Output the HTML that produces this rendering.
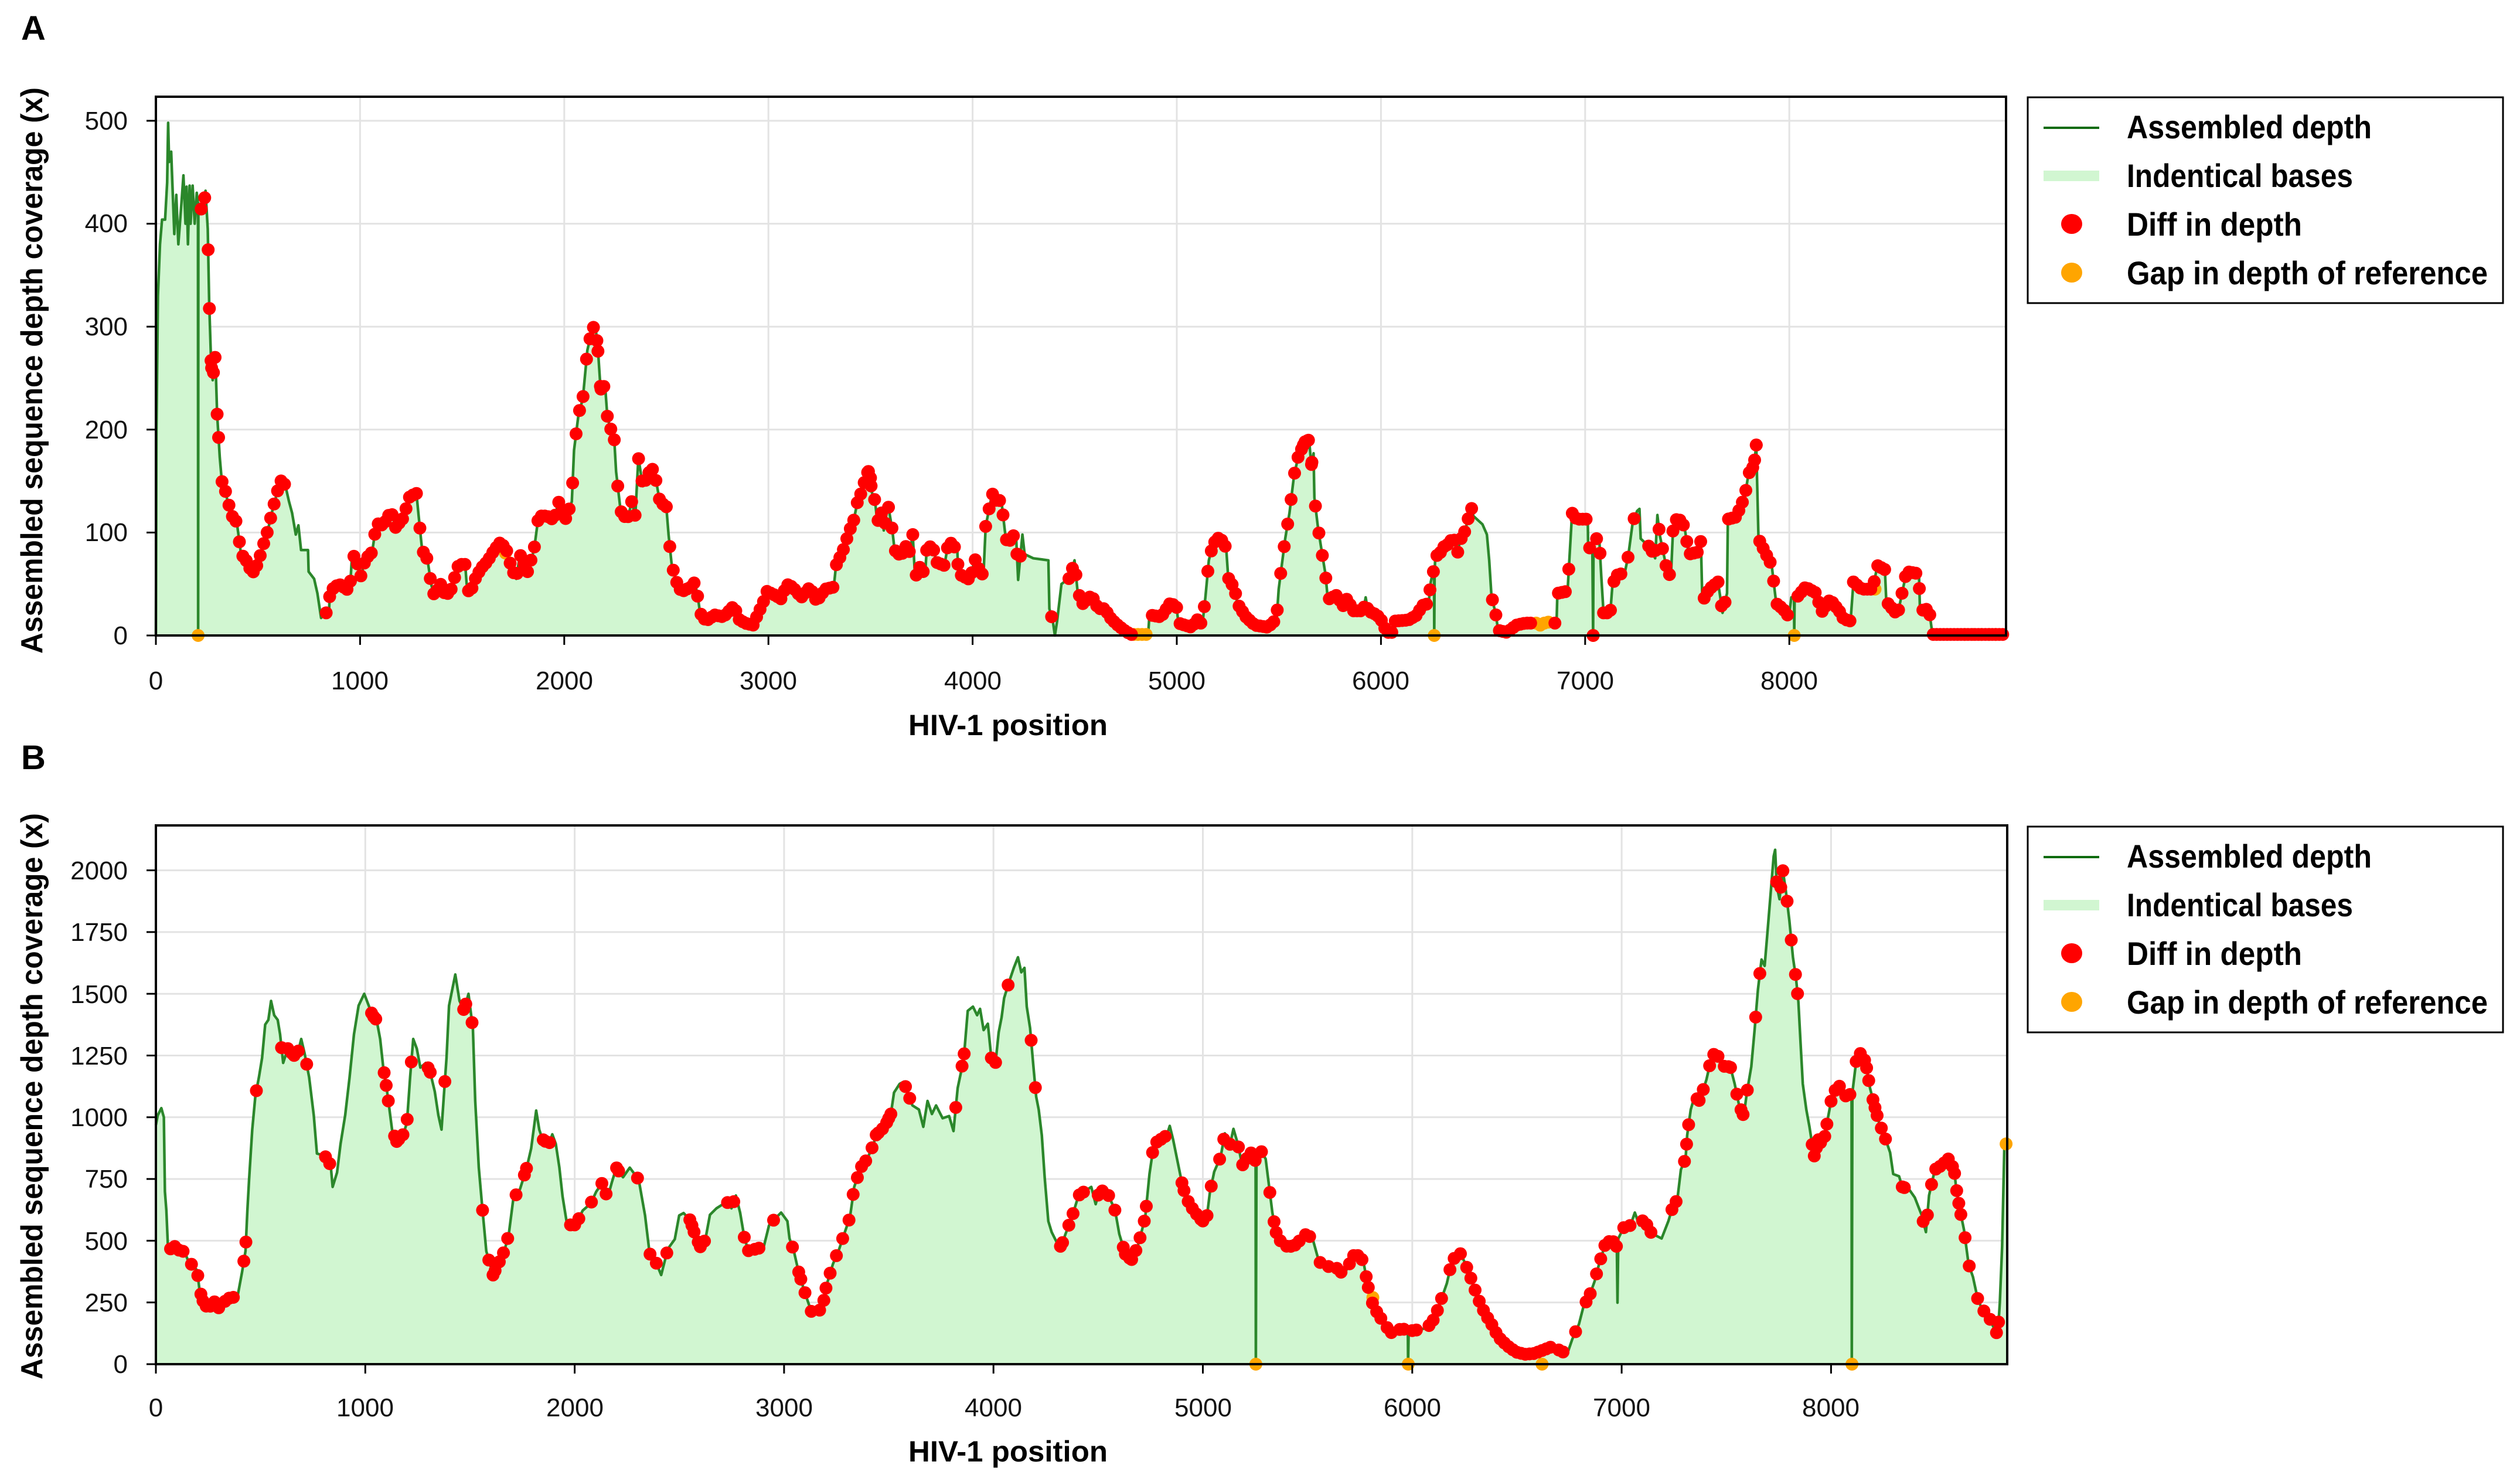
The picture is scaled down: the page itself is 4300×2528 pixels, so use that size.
<!DOCTYPE html>
<html><head><meta charset="utf-8">
<style>
html,body{margin:0;padding:0;background:#fff;}
svg{display:block;}
text{font-family:"Liberation Sans",sans-serif;}
</style></head>
<body>
<svg id="s" xmlns="http://www.w3.org/2000/svg" width="4300" height="2528" viewBox="0 0 4300 2528">
<rect width="4300" height="2528" fill="#fff"/>
<g id="plots"></g>
<text x="57" y="68" font-size="58" font-weight="bold" text-anchor="middle">A</text>
<text x="57" y="1312" font-size="58" font-weight="bold" text-anchor="middle">B</text>
<text transform="translate(72,632) rotate(-90)" font-size="52" font-weight="bold" text-anchor="middle" textLength="966" lengthAdjust="spacingAndGlyphs">Assembled sequence depth coverage (x)</text>
<text transform="translate(72,1870) rotate(-90)" font-size="52" font-weight="bold" text-anchor="middle" textLength="966" lengthAdjust="spacingAndGlyphs">Assembled sequence depth coverage (x)</text>
<text x="1720" y="1254" font-size="50" font-weight="bold" text-anchor="middle" textLength="340" lengthAdjust="spacingAndGlyphs">HIV-1 position</text>
<text x="1720" y="2493" font-size="50" font-weight="bold" text-anchor="middle" textLength="340" lengthAdjust="spacingAndGlyphs">HIV-1 position</text>
<g id="legA">
<rect x="3460" y="166" width="811" height="351" fill="#fff" stroke="#000" stroke-width="3"/>
<line x1="3487" y1="218" x2="3582" y2="218" stroke="#0f6b0f" stroke-width="4"/>
<rect x="3487" y="291" width="95" height="18" fill="#d1f6d1"/>
<ellipse cx="3535" cy="382" rx="18" ry="17" fill="#ff0000"/>
<ellipse cx="3535" cy="465" rx="18" ry="17" fill="#ffa500"/>
<text x="3629" y="236" font-size="56" font-weight="bold" textLength="418" lengthAdjust="spacingAndGlyphs">Assembled depth</text>
<text x="3629" y="319" font-size="56" font-weight="bold" textLength="386" lengthAdjust="spacingAndGlyphs">Indentical bases</text>
<text x="3629" y="402" font-size="56" font-weight="bold" textLength="299" lengthAdjust="spacingAndGlyphs">Diff in depth</text>
<text x="3629" y="485" font-size="56" font-weight="bold" textLength="616" lengthAdjust="spacingAndGlyphs">Gap in depth of reference</text>
</g>
<g transform="translate(0,1244)">
<rect x="3460" y="166" width="811" height="351" fill="#fff" stroke="#000" stroke-width="3"/>
<line x1="3487" y1="218" x2="3582" y2="218" stroke="#0f6b0f" stroke-width="4"/>
<rect x="3487" y="291" width="95" height="18" fill="#d1f6d1"/>
<ellipse cx="3535" cy="382" rx="18" ry="17" fill="#ff0000"/>
<ellipse cx="3535" cy="465" rx="18" ry="17" fill="#ffa500"/>
<text x="3629" y="236" font-size="56" font-weight="bold" textLength="418" lengthAdjust="spacingAndGlyphs">Assembled depth</text>
<text x="3629" y="319" font-size="56" font-weight="bold" textLength="386" lengthAdjust="spacingAndGlyphs">Indentical bases</text>
<text x="3629" y="402" font-size="56" font-weight="bold" textLength="299" lengthAdjust="spacingAndGlyphs">Diff in depth</text>
<text x="3629" y="485" font-size="56" font-weight="bold" textLength="616" lengthAdjust="spacingAndGlyphs">Gap in depth of reference</text>
</g>
<g font-size="44" fill="#111" text-anchor="end">
<text x="218" y="1099">0</text><text x="218" y="923">100</text><text x="218" y="748">200</text><text x="218" y="572">300</text><text x="218" y="396">400</text><text x="218" y="221">500</text>
</g>
<g font-size="44" fill="#111" text-anchor="middle">
<text x="266" y="1176">0</text><text x="614" y="1176">1000</text><text x="963" y="1176">2000</text><text x="1311" y="1176">3000</text><text x="1660" y="1176">4000</text><text x="2008" y="1176">5000</text><text x="2356" y="1176">6000</text><text x="2705" y="1176">7000</text><text x="3053" y="1176">8000</text>
</g>
<g font-size="44" fill="#111" text-anchor="end">
<text x="218" y="2342">0</text><text x="218" y="2237">250</text><text x="218" y="2132">500</text><text x="218" y="2026">750</text><text x="218" y="1921">1000</text><text x="218" y="1816">1250</text><text x="218" y="1711">1500</text><text x="218" y="1605">1750</text><text x="218" y="1500">2000</text>
</g>
<g font-size="44" fill="#111" text-anchor="middle">
<text x="266" y="2416">0</text><text x="623" y="2416">1000</text><text x="981" y="2416">2000</text><text x="1338" y="2416">3000</text><text x="1695" y="2416">4000</text><text x="2053" y="2416">5000</text><text x="2410" y="2416">6000</text><text x="2767" y="2416">7000</text><text x="3124" y="2416">8000</text>
</g>
</svg>
<script>
var A=[[0,0],[3,200],[10,330],[20,380],[30,404],[45,404],[55,440],[60,498],[65,460],[75,470],[90,390],[100,428],[110,380],[125,420],[135,447],[145,400],[150,436],[157,380],[165,437],[170,400],[180,437],[190,400],[200,430],[206,420],[207,0],[208,420],[215,418],[230,410],[243,432],[254,395],[261,324],[270,267],[278,248],[291,272],[300,215],[313,173],[323,150],[341,140],[356,126],[370,130],[378,107],[395,112],[417,79],[440,74],[472,60],[500,70],[526,88],[548,102],[570,121],[602,145],[617,152],[635,145],[652,130],[667,119],[685,98],[698,107],[711,83],[745,83],[748,62],[775,55],[791,41],[809,17],[830,22],[848,22],[852,43],[896,50],[950,43],[961,79],[983,74],[1000,55],[1026,74],[1059,81],[1080,109],[1113,107],[1152,121],[1174,105],[1211,114],[1243,135],[1276,138],[1287,116],[1304,83],[1330,74],[1348,50],[1363,39],[1396,50],[1417,39],[1443,43],[1461,55],[1483,69],[1515,69],[1522,50],[1537,39],[1559,53],[1591,65],[1624,72],[1657,83],[1689,91],[1722,81],[1739,67],[1765,55],[1783,79],[1820,62],[1852,83],[1874,116],[1917,116],[1950,112],[1972,130],[2004,112],[2037,130],[2048,180],[2070,215],[2091,230],[2113,277],[2135,296],[2152,303],[2167,272],[2178,239],[2200,243],[2211,213],[2226,201],[2243,197],[2254,159],[2276,121],[2309,112],[2330,130],[2348,116],[2363,173],[2385,145],[2428,164],[2450,150],[2472,126],[2498,130],[2511,98],[2526,69],[2559,46],[2580,43],[2620,47],[2640,52],[2656,35],[2665,22],[2694,14],[2737,20],[2780,18],[2832,29],[2853,16],[2885,12],[2928,10],[2949,22],[2970,29],[2991,43],[3034,39],[3066,35],[3087,50],[3119,47],[3161,37],[3204,47],[3236,33],[3278,45],[3320,47],[3331,68],[3363,81],[3384,94],[3405,106],[3416,110],[3437,131],[3458,140],[3480,157],[3497,161],[3505,140],[3522,131],[3533,110],[3554,119],[3565,102],[3586,127],[3607,102],[3618,83],[3650,77],[3671,87],[3692,81],[3707,98],[3718,56],[3745,68],[3767,58],[3777,89],[3809,83],[3824,71],[3862,68],[3883,92],[3925,83],[3930,60],[3989,54],[4010,75],[4032,64],[4053,58],[4064,106],[4096,138],[4127,127],[4138,136],[4159,100],[4170,89],[4212,100],[4223,54],[4244,98],[4255,79],[4297,75],[4371,73],[4376,26],[4393,14],[4403,0],[4414,14],[4435,50],[4477,56],[4499,73],[4514,43],[4540,31],[4583,39],[4615,26],[4647,26],[4679,16],[4711,10],[4743,5],[4775,1],[4860,1],[4866,20],[4923,18],[4966,31],[4998,29],[5008,12],[5072,8],[5104,16],[5125,10],[5140,37],[5157,73],[5178,89],[5210,96],[5242,85],[5252,56],[5284,45],[5297,31],[5339,18],[5382,10],[5446,8],[5489,16],[5499,45],[5531,94],[5552,119],[5574,155],[5595,174],[5627,188],[5648,190],[5659,165],[5670,177],[5674,134],[5691,106],[5712,79],[5728,60],[5740,35],[5782,39],[5815,29],[5837,37],[5859,24],[5914,24],[5925,37],[5936,24],[5980,20],[6013,12],[6024,3],[6057,3],[6068,14],[6134,15],[6178,20],[6200,29],[6233,31],[6244,52],[6255,62],[6260,62],[6261,0],[6263,62],[6266,77],[6288,79],[6299,85],[6332,89],[6354,96],[6376,81],[6387,92],[6409,100],[6420,108],[6442,125],[6453,116],[6497,108],[6519,98],[6530,73],[6541,39],[6563,20],[6574,5],[6618,3],[6662,10],[6706,12],[6837,12],[6860,12],[6864,41],[6914,43],[6921,68],[6936,119],[6958,113],[7013,113],[7015,83],[7035,89],[7039,0],[7041,89],[7068,98],[7079,58],[7090,22],[7123,22],[7134,50],[7167,62],[7189,56],[7211,77],[7233,110],[7255,121],[7266,123],[7272,94],[7299,89],[7321,85],[7343,75],[7354,117],[7365,98],[7398,66],[7420,56],[7431,106],[7453,115],[7486,106],[7508,79],[7552,81],[7567,92],[7574,33],[7607,45],[7651,52],[7673,22],[7695,41],[7699,113],[7739,115],[7761,125],[7783,136],[7800,157],[7827,165],[7838,185],[7849,94],[7871,85],[7914,68],[7936,31],[7969,26],[7998,18],[8010,37],[8023,37],[8024,0],[8026,37],[8037,37],[8079,47],[8134,41],[8156,22],[8200,35],[8244,24],[8266,16],[8300,14],[8314,52],[8354,45],[8409,45],[8431,68],[8468,64],[8475,33],[8530,20],[8574,62],[8635,60],[8640,24],[8684,26],[8701,1],[9060,1]];
var B=[[0,969],[9,1008],[26,1037],[38,1000],[43,699],[50,622],[58,467],[80,467],[101,487],[115,448],[135,460],[154,419],[197,380],[208,303],[229,245],[250,226],[283,255],[308,216],[336,265],[390,274],[411,371],[428,458],[437,622],[445,747],[460,950],[475,1085],[492,1162],[507,1240],[522,1375],[537,1394],[550,1471],[565,1413],[582,1394],[593,1336],[608,1220],[630,1278],[650,1259],[672,1240],[694,1317],[710,1259],[732,1162],[754,1008],[769,853],[807,844],[835,805],[844,718],[865,776],[882,892],[904,1008],[925,1162],[946,1336],[968,1452],[995,1500],[1012,1462],[1034,1413],[1054,1394],[1071,1317],[1086,1201],[1101,1124],[1113,1047],[1128,950],[1150,902],[1182,931],[1199,979],[1214,1162],[1229,1317],[1246,1278],[1263,1201],[1289,1220],[1310,1182],[1332,1104],[1349,1008],[1364,950],[1375,1085],[1388,1240],[1400,1452],[1418,1529],[1430,1578],[1450,1471],[1472,1433],[1493,1500],[1514,1356],[1525,1066],[1542,796],[1557,651],[1578,458],[1610,361],[1632,400],[1664,458],[1685,525],[1707,670],[1739,709],[1771,796],[1792,873],[1816,1027],[1831,950],[1846,911],[1878,892],[1893,931],[1910,892],[1927,796],[1942,680],[1964,564],[2006,564],[2038,622],[2077,651],[2103,699],[2135,738],[2156,670],[2178,738],[2199,796],[2231,757],[2263,796],[2306,747],[2336,602],[2358,448],[2390,409],[2413,361],[2445,467],[2478,506],[2499,602],[2520,612],[2552,583],[2574,525],[2605,466],[2625,509],[2646,605],[2677,631],[2708,648],[2728,657],[2749,631],[2770,683],[2790,614],[2811,509],[2831,457],[2862,466],[2903,475],[2928,562],[2955,588],[2986,614],[3016,579],[3026,509],[3047,457],[3068,379],[3089,318],[3109,266],[3130,214],[3161,223],[3181,214],[3202,318],[3233,405],[3263,466],[3294,544],[3315,596],[3335,718],[3366,796],[3397,831],[3428,892],[3438,927],[3480,961],[3510,1013],[3525,1100],[3552,1135],[3572,1144],[3593,1092],[3613,1048],[3644,1031],[3665,961],[3685,1066],[3706,1013],[3726,1048],[3757,996],[3788,1005],[3809,944],[3829,1118],[3846,1187],[3860,1257],[3877,1431],[3902,1448],[3922,1413],[3936,1439],[3953,1353],[3973,1379],[3990,1240],[4010,1222],[4025,1344],[4039,1405],[4051,1483],[4076,1552],[4097,1605],[4117,1648],[4133,1587],[4148,1605],[4159,1448],[4175,1361],[4190,1213],[4204,1083],[4216,1031],[4231,927],[4245,753],[4262,579],[4278,535],[4303,492],[4323,475],[4344,527],[4375,596],[4406,683],[4437,701],[4467,718],[4488,648],[4508,709],[4550,683],[4581,622],[4601,527],[4632,440],[4663,422],[4694,492],[4725,596],[4745,770],[4766,892],[4797,909],[4828,927],[4842,965],[4858,909],[4883,805],[4904,718],[4925,666],[4956,622],[4998,579],[5018,588],[5033,692],[5054,779],[5085,840],[5105,935],[5126,875],[5146,953],[5167,892],[5188,805],[5229,857],[5252,822],[5253,0],[5256,822],[5270,875],[5300,831],[5318,709],[5332,614],[5349,535],[5380,483],[5411,475],[5442,483],[5493,527],[5524,509],[5555,414],[5598,396],[5641,388],[5673,362],[5695,396],[5716,440],[5752,440],[5769,405],[5786,327],[5801,266],[5822,223],[5855,179],[5897,127],[5951,144],[5979,136],[5980,0],[5983,136],[6004,136],[6058,144],[6090,162],[6111,196],[6133,249],[6165,327],[6186,405],[6207,440],[6229,449],[6250,414],[6282,344],[6314,266],[6347,205],[6379,162],[6411,110],[6453,75],[6496,49],[6539,40],[6582,43],[6625,57],[6667,71],[6721,49],[6743,49],[6764,101],[6796,162],[6817,231],[6849,283],[6871,336],[6892,405],[6924,492],[6956,501],[6977,475],[6980,249],[6984,509],[7010,553],[7042,562],[7063,614],[7085,562],[7106,588],[7138,535],[7170,518],[7191,509],[7223,579],[7245,640],[7266,666],[7283,788],[7305,831],[7313,927],[7330,1031],[7348,1083],[7373,1066],[7405,1153],[7433,1257],[7459,1248],[7491,1205],[7519,1205],[7540,1135],[7561,1048],[7583,1005],[7598,1100],[7619,1205],[7634,1344],[7651,1518],[7668,1639],[7683,1613],[7694,1726],[7711,1900],[7726,2057],[7733,2083],[7741,1935],[7754,1883],[7769,2004],[7784,1918],[7801,1796],[7818,1648],[7833,1561],[7844,1466],[7854,1309],[7865,1135],[7882,1031],[7897,961],[7919,840],[7940,909],[7962,883],[7983,987],[8004,1083],[8036,1135],[8058,1083],[8090,1092],[8098,1100],[8099,0],[8102,1100],[8122,1240],[8148,1266],[8169,1205],[8186,1118],[8207,1048],[8229,979],[8254,927],[8282,857],[8297,770],[8325,761],[8340,718],[8372,709],[8400,675],[8432,605],[8453,535],[8468,683],[8496,788],[8528,805],[8560,831],[8588,788],[8597,718],[8614,631],[8635,544],[8657,405],[8678,353],[8700,266],[8721,223],[8753,196],[8774,153],[8796,118],[8806,249],[8817,475],[8828,892],[8842,900]];
var dotsB=[70,90,110,130,170,200,215,225,240,260,280,300,330,350,370,420,430,480,600,630,650,660,680,720,810,830,1030,1040,1050,1090,1100,1110,1140,1150,1160,1180,1200,1220,1300,1310,1380,1470,1480,1510,1560,1590,1610,1620,1640,1660,1680,1720,1760,1770,1850,1860,1880,1980,2000,2020,2080,2130,2150,2200,2210,2300,2360,2390,2440,2550,2560,2570,2590,2600,2620,2730,2760,2810,2830,2860,2880,2950,3040,3070,3080,3100,3130,3170,3190,3200,3220,3250,3280,3310,3330,3350,3370,3390,3420,3440,3450,3470,3490,3500,3510,3580,3600,3820,3850,3860,3990,4010,4070,4180,4200,4320,4330,4360,4380,4410,4430,4500,4520,4550,4580,4620,4630,4650,4660,4680,4700,4720,4730,4760,4780,4800,4820,4900,4910,4930,4950,4970,4990,5000,5020,5040,5080,5100,5130,5170,5190,5210,5230,5250,5280,5320,5340,5350,5370,5400,5420,5440,5460,5490,5510,5560,5600,5640,5660,5700,5720,5740,5760,5780,5790,5810,5830,5850,5880,5900,5940,5960,6000,6020,6080,6100,6120,6140,6180,6200,6230,6260,6280,6300,6320,6340,6360,6380,6400,6420,6440,6460,6480,6500,6520,6540,6560,6580,6600,6620,6640,6660,6700,6720,6780,6830,6850,6880,6900,6920,6940,6960,6975,7010,7040,7100,7120,7140,7240,7260,7300,7310,7320,7360,7370,7390,7420,7440,7460,7490,7510,7520,7550,7570,7580,7600,7640,7660,7740,7760,7770,7790,7810,7830,7840,7910,7920,7930,7940,7950,7970,7980,8000,8020,8040,8070,8090,8120,8140,8160,8170,8180,8200,8210,8220,8240,8260,8340,8350,8440,8460,8480,8500,8520,8540,8560,8580,8590,8600,8610,8620,8640,8660,8700,8730,8760,8790,8800];
function interp(P,x){for(var i=1;i<P.length;i++){if(P[i][0]>=x){var a=P[i-1],b=P[i];var t=b[0]==a[0]?0:(x-a[0])/(b[0]-a[0]);return a[1]+t*(b[1]-a[1]);}}return P[P.length-1][1];}
var dotsA=[];var skip=[[0,218],[640,825],[4235,4380],[4395,4460],[4780,4865],[6455,6545],[6740,6850],[7180,7300],[8005,8040]];
for(var x=222;x<=9050;x+=17){var ok=true;for(var k=0;k<skip.length;k++){if(x>=skip[k][0]&&x<=skip[k][1])ok=false;}if(ok)dotsA.push(x);}
dotsA.push(222,262,270,282,300,2165,2180,3500,3490,5620,5640,5660,7838,7830,7210,7240);
var orangeA=[[207,0],[1712,80],[4790,1],[4810,1],[4830,1],[4850,1],[6261,0],[6760,12],[6780,10],[6800,12],[6820,13],[7040,0],[8024,0],[8420,45],[8860,1],[8900,1],[8940,1],[8980,1],[9010,1]];
var orangeB=[[5253,0],[5981,0],[6620,0],[8100,0],[8836,892],[5812,270]];
function build(P,mx,my,x0,y0,X1,Y0,Y1,xg,yg,dots,oranges){
 var s='';
 xg.forEach(function(v){var px=x0+v*mx;s+='<line x1="'+px+'" y1="'+Y1+'" x2="'+px+'" y2="'+Y0+'" stroke="#e3e3e3" stroke-width="3"/>';});
 yg.forEach(function(v){var py=y0-v*my;s+='<line x1="'+x0+'" y1="'+py+'" x2="'+X1+'" y2="'+py+'" stroke="#e3e3e3" stroke-width="3"/>';});
 var pts=P.map(function(p){return (x0+p[0]*mx).toFixed(1)+','+(y0-p[1]*my).toFixed(1);});
 s+='<polygon points="'+x0+','+y0+' '+pts.join(' ')+' '+(x0+P[P.length-1][0]*mx).toFixed(1)+','+y0+'" fill="#d1f6d1"/>';
 s+='<polyline points="'+pts.join(' ')+'" fill="none" stroke="#2b872b" stroke-width="4.5" stroke-linejoin="round"/>';
 oranges.forEach(function(o){s+='<circle cx="'+(x0+o[0]*mx).toFixed(1)+'" cy="'+(y0-o[1]*my).toFixed(1)+'" r="11" fill="#ffa500"/>';});
 dots.forEach(function(x){var y=interp(P,x);s+='<circle cx="'+(x0+x*mx).toFixed(1)+'" cy="'+(y0-y*my).toFixed(1)+'" r="11" fill="#ff0000"/>';});
 s+='<rect x="'+x0+'" y="'+Y1+'" width="'+(X1-x0)+'" height="'+(Y0-Y1)+'" fill="none" stroke="#000" stroke-width="4"/>';
 xg.concat([0]).forEach(function(v){var px=x0+v*mx;s+='<line x1="'+px+'" y1="'+Y0+'" x2="'+px+'" y2="'+(Y0+16)+'" stroke="#000" stroke-width="3"/>';});
 yg.concat([0]).forEach(function(v){var py=y0-v*my;s+='<line x1="'+(x0-16)+'" y1="'+py+'" x2="'+x0+'" y2="'+py+'" stroke="#000" stroke-width="3"/>';});
 return s;
}
var g='';
g+=build(A,0.3484,1.756,266,1084,3423,1084,165,[1000,2000,3000,4000,5000,6000,7000,8000],[100,200,300,400,500],dotsA,orangeA);
g+=build(B,0.3573,0.4212,266,2327,3425,2327,1408,[1000,2000,3000,4000,5000,6000,7000,8000],[250,500,750,1000,1250,1500,1750,2000],dotsB,orangeB);
document.getElementById('plots').innerHTML=g;
</script>
</body></html>
